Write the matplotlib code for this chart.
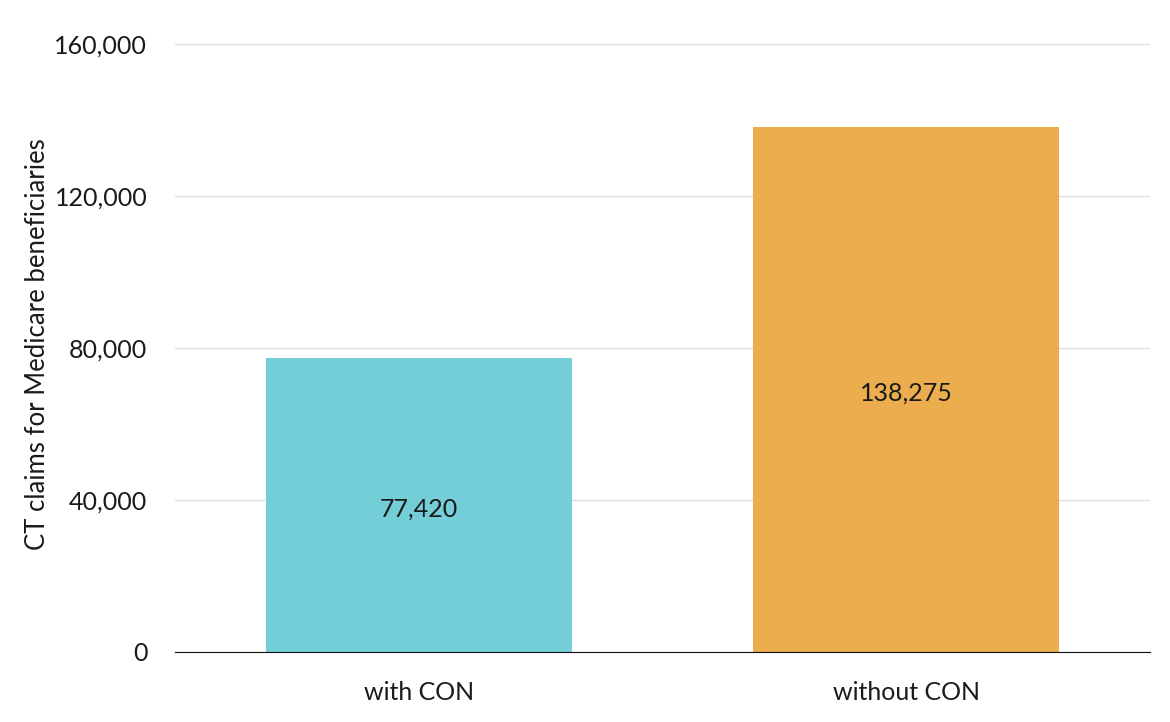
import matplotlib.pyplot as plt
from matplotlib.ticker import FuncFormatter

# données
categories = ['with CON', 'without CON']
claims = [77420, 138275]
colors = ['#74CED7', '#EBAD4E']
yticks = [0, 40000, 80000, 120000, 160000]

plt.rcParams['font.family'] = ['Lato', 'DejaVu Sans']

fig = plt.figure(figsize=(11.7, 7.22), dpi=100)
ax = fig.add_axes([0.1496, 0.097, 0.8334, 0.8525])

x = range(len(categories))
bars = ax.bar(x, claims, width=0.628, color=colors, zorder=2)

for b, v in zip(bars, claims):
    ax.text(b.get_x() + b.get_width() / 2, v / 2 - 1000, f'{v:,}', ha='center', va='center',
            fontsize=18, color='#1a1a1a')

ax.set_xlim(-0.5, 1.5)
ax.set_ylim(0, 162000)
ax.set_yticks(yticks)
ax.yaxis.set_major_formatter(FuncFormatter(lambda v, p: f'{int(v):,}'))
ax.set_xticks(list(x))
ax.set_xticklabels(categories)
ax.tick_params(axis='both', length=0, labelsize=18, colors='#1a1a1a')
ax.tick_params(axis='y', pad=20)
ax.tick_params(axis='x', pad=21)
ax.grid(axis='y', color='#e0e0e0', linewidth=1, zorder=0)
for s in ['top', 'right', 'left']:
    ax.spines[s].set_visible(False)
ax.spines['bottom'].set_color('#111111')
ax.spines['bottom'].set_zorder(3)
ax.set_ylabel('CT claims for Medicare beneficiaries', fontsize=18.5, color='#1a1a1a', labelpad=3)

fig.savefig('out.png', dpi=100)
